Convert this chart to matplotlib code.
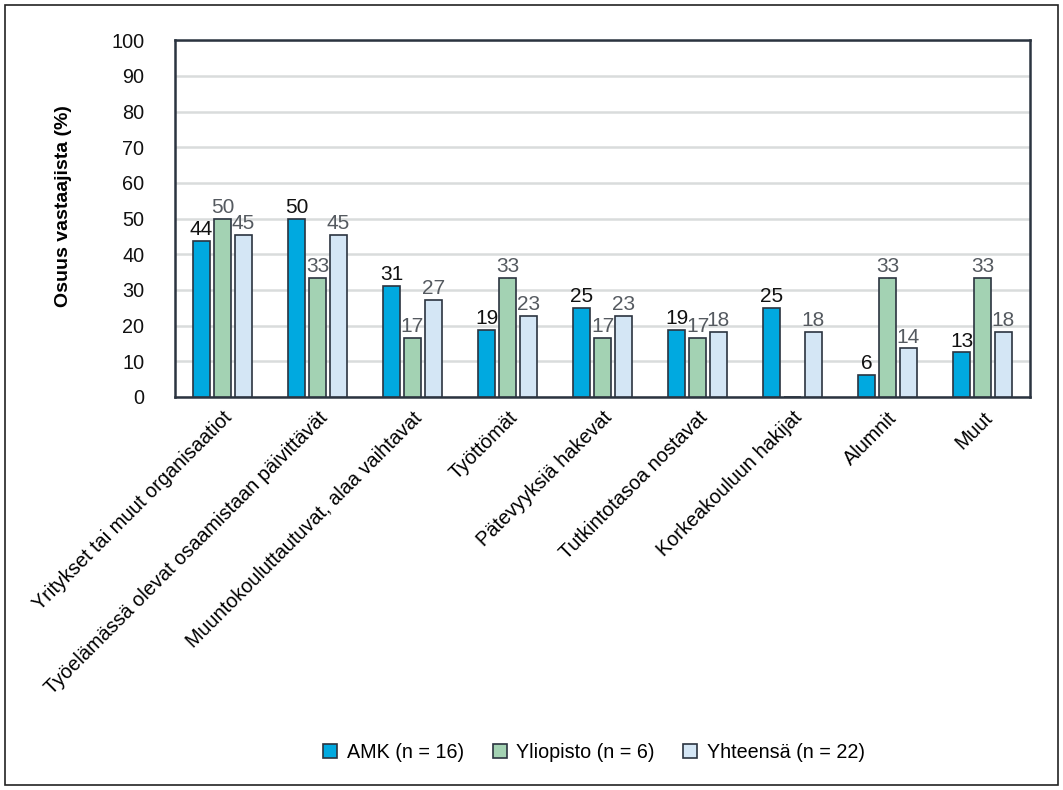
import matplotlib.pyplot as plt
import numpy as np

plt.rcParams['font.family'] = ['Liberation Sans', 'DejaVu Sans']

kategoriat = ['Yritykset tai muut organisaatiot',
              'Työelämässä olevat osaamistaan päivittävät',
              'Muuntokouluttautuvat, alaa vaihtavat',
              'Työttömät',
              'Pätevyyksiä hakevat',
              'Tutkintotasoa nostavat',
              'Korkeakouluun hakijat',
              'Alumnit',
              'Muut']
amk = [43.75, 50.0, 31.25, 18.75, 25.0, 18.75, 25.0, 6.25, 12.5]
yliopisto = [50.0, 33.33, 16.67, 33.33, 16.67, 16.67, 0.0, 33.33, 33.33]
yhteensa = [45.45, 45.45, 27.27, 22.73, 22.73, 18.18, 18.18, 13.64, 18.18]
sarjat = ['AMK (n = 16)', 'Yliopisto (n = 6)', 'Yhteensä (n = 22)']

varit = ['#00A9E0', '#A3D2B3', '#D4E6F5']
tekstivarit = ['#111111', '#555a60', '#555a60']
reuna = '#2b3440'

fig = plt.figure(figsize=(10.63, 7.9), dpi=100)
ax = fig.add_axes([0.1646, 0.4975, 0.8044, 0.4515])

x = np.arange(len(kategoriat))
leveys = 0.18
siirto = 0.22
for i, (arvot, vari, tv, nimi) in enumerate(zip([amk, yliopisto, yhteensa], varit, tekstivarit, sarjat)):
    pos = x + (i - 1) * siirto
    ax.bar(pos, arvot, width=leveys, color=vari, edgecolor=reuna, linewidth=1.2,
           label=nimi, zorder=3)
    for px, v in zip(pos, arvot):
        if v > 0:
            ax.text(px, v + 0.5, str(int(v + 0.5)), ha='center', va='bottom',
                    fontsize=15, color=tv, zorder=4)

ax.set_ylim(0, 100)
ax.set_xlim(-0.5, len(kategoriat) - 0.5)
ax.set_yticks(range(0, 101, 10))
ax.tick_params(axis='y', labelsize=14.3, length=0, pad=22, colors='#111111')
ax.set_xticks(x)
ax.set_xticklabels(kategoriat, rotation=45, ha='right', rotation_mode='anchor',
                   fontsize=14.3)
ax.tick_params(axis='x', length=0, pad=8)
ax.grid(axis='y', color='#d9dcdc', linewidth=1.8, zorder=0)
for s in ax.spines.values():
    s.set_color(reuna)
    s.set_linewidth(1.8)
ax.set_ylabel('Osuus vastaajista (%)', fontsize=14, fontweight='bold')
ax.yaxis.set_label_coords(-0.121, 0.535)

fig.legend(loc='center', bbox_to_anchor=(0.559, 0.048), ncol=3, frameon=False,
           fontsize=14.2, handlelength=0.7, handleheight=0.7, handletextpad=0.5,
           columnspacing=1.45)

fig.patches.append(plt.Rectangle((0.005, 0.006), 0.99, 0.988, transform=fig.transFigure,
                                 fill=False, edgecolor='#222222', linewidth=1.2))

plt.savefig('out.png', dpi=100)
